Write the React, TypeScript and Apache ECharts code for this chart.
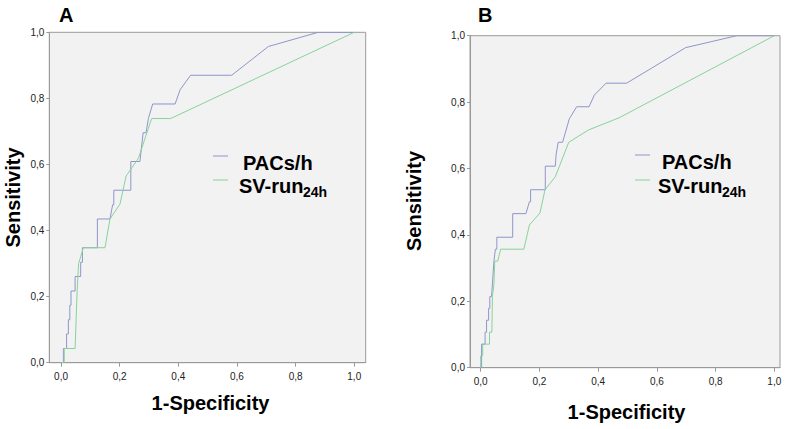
import React, { useEffect, useRef } from "react";
import * as echarts from "echarts";

const tickValues = [0, 0.2, 0.4, 0.6, 0.8, 1.0];

const pacsA: number[][] = [
  [0, 0], [0.008, 0], [0.008, 0.043], [0.019, 0.043], [0.019, 0.087], [0.025, 0.087],
  [0.025, 0.13], [0.03, 0.13], [0.03, 0.174], [0.034, 0.174], [0.034, 0.217], [0.048, 0.217],
  [0.048, 0.261], [0.067, 0.261], [0.067, 0.304], [0.073, 0.304], [0.073, 0.348], [0.124, 0.348],
  [0.124, 0.435], [0.167, 0.435], [0.176, 0.478], [0.18, 0.478], [0.18, 0.522], [0.238, 0.522],
  [0.238, 0.609], [0.269, 0.609], [0.28, 0.696], [0.29, 0.696], [0.298, 0.739], [0.3125, 0.783],
  [0.389, 0.783], [0.406, 0.826], [0.442, 0.87], [0.582, 0.87], [0.707, 0.957], [0.877, 1.0], [1.0, 1.0],
];

const svA: number[][] = [
  [0, 0], [0.011, 0], [0.011, 0.043], [0.048, 0.043], [0.055, 0.22], [0.06, 0.3], [0.076, 0.348],
  [0.15, 0.348], [0.167, 0.435], [0.201, 0.48], [0.222, 0.565], [0.264, 0.619], [0.309, 0.739],
  [0.374, 0.739], [1, 1],
];

const pacsB: number[][] = [
  [0, 0], [0.003, 0], [0.003, 0.071], [0.015, 0.071], [0.015, 0.107], [0.02, 0.107], [0.02, 0.143],
  [0.027, 0.143], [0.027, 0.179], [0.031, 0.179], [0.031, 0.214], [0.037, 0.214], [0.045, 0.32],
  [0.05, 0.357], [0.055, 0.357], [0.055, 0.393], [0.109, 0.393], [0.109, 0.464], [0.154, 0.464],
  [0.166, 0.5], [0.17, 0.5], [0.17, 0.536], [0.22, 0.536], [0.22, 0.607], [0.254, 0.607],
  [0.257, 0.643], [0.264, 0.679], [0.279, 0.679], [0.302, 0.75], [0.327, 0.786], [0.369, 0.786],
  [0.387, 0.821], [0.427, 0.857], [0.497, 0.857], [0.698, 0.964], [0.872, 1.0], [1, 1],
];

const svB: number[][] = [
  [0, 0], [0, 0.036], [0.007, 0.036], [0.007, 0.071], [0.03, 0.071], [0.03, 0.107], [0.038, 0.107],
  [0.04, 0.214], [0.045, 0.25], [0.048, 0.321], [0.058, 0.321], [0.068, 0.357], [0.147, 0.357],
  [0.166, 0.43], [0.202, 0.466], [0.219, 0.536], [0.254, 0.575], [0.3, 0.679], [0.367, 0.716],
  [0.472, 0.753], [1, 1],
];

const seriesNames = ["PACs/h", "SV-run"];
const subscript = "24h";
const panelLabels = ["A", "B"];
const xTitle = "1-Specificity";
const yTitle = "Sensitivity";

const BLUE = "#8f95cb";
const GREEN = "#86d39a";
const FONT = "'Liberation Sans', Arial, sans-serif";
const AXIS = "#9a9a9a";

const fmt = (v: number) => v.toFixed(1).replace(".", ",");

function makeX(gridIndex: number, min: number, max: number) {
  return {
    type: "value",
    gridIndex,
    min,
    max,
    axisLine: { show: true, onZero: false, lineStyle: { color: AXIS, width: 1 } },
    axisTick: { show: true, length: 4, customValues: tickValues, lineStyle: { color: AXIS } },
    axisLabel: { customValues: tickValues, formatter: fmt, fontSize: 10, color: "#222", fontFamily: FONT, margin: 9 },
    splitLine: { show: false },
  };
}
function makeY(gridIndex: number) {
  return {
    type: "value",
    gridIndex,
    min: 0,
    max: 1,
    interval: 0.2,
    axisLine: { show: true, onZero: false, lineStyle: { color: AXIS, width: 1 } },
    axisTick: { show: true, length: 3, lineStyle: { color: AXIS } },
    axisLabel: { formatter: fmt, fontSize: 10, color: "#222", fontFamily: FONT, margin: 5 },
    splitLine: { show: false },
  };
}

function line(name: string, data: number[][], color: string, idx: number) {
  return {
    type: "line",
    name,
    data,
    xAxisIndex: idx,
    yAxisIndex: idx,
    showSymbol: false,
    symbol: "none",
    lineStyle: { color, width: 1 },
    itemStyle: { color },
    silent: true,
  };
}

function bold(text: string, x: number, y: number, size: number, extra: any = {}) {
  return {
    type: "text",
    x,
    y,
    ...extra,
    style: {
      text,
      fontSize: size,
      fontWeight: "bold",
      fontFamily: FONT,
      fill: "#000",
      textVerticalAlign: "middle",
      textAlign: extra.align || "left",
    },
  };
}

function legend(lx: number, py: number, sy: number, px: number, sx: number) {
  return [
    { type: "line", shape: { x1: lx, y1: py, x2: lx + 15, y2: py }, style: { stroke: BLUE, lineWidth: 1 } },
    { type: "line", shape: { x1: lx, y1: sy, x2: lx + 15, y2: sy }, style: { stroke: GREEN, lineWidth: 1 } },
    bold(seriesNames[0], px, py + 7, 20),
    bold(seriesNames[1], sx, sy + 6, 20),
    bold(subscript, sx + 64, sy + 12, 14),
  ];
}

export default function App() {
  const ref = useRef<HTMLDivElement>(null);
  useEffect(() => {
    document.body.style.margin = "0";
    const chart = echarts.init(ref.current!, null, { renderer: "svg" });
    chart.setOption({
      animation: false,
      backgroundColor: "#fff",
      grid: [
        { left: 49.3, top: 32.3, width: 316.4, height: 330.4, show: true, backgroundColor: "#f2f2f2", borderColor: AXIS, borderWidth: 1 },
        { left: 470, top: 35.7, width: 310, height: 332, show: true, backgroundColor: "#f2f2f2", borderColor: AXIS, borderWidth: 1 },
      ],
      xAxis: [makeX(0, -0.04, 1.039), makeX(1, -0.0364, 1.0194)],
      yAxis: [makeY(0), makeY(1)],
      series: [
        line(seriesNames[0] + " A", pacsA, BLUE, 0),
        line(seriesNames[1] + " A", svA, GREEN, 0),
        line(seriesNames[0] + " B", pacsB, BLUE, 1),
        line(seriesNames[1] + " B", svB, GREEN, 1),
      ],
      graphic: [
        bold(panelLabels[0], 59, 15, 20),
        bold(panelLabels[1], 478, 15, 20),
        bold(xTitle, 210.5, 402.5, 20, { align: "center" }),
        bold(xTitle, 626.5, 412, 20, { align: "center" }),
        bold(yTitle, 12.5, 197.5, 20, { align: "center", rotation: Math.PI / 2 }),
        bold(yTitle, 413.5, 201, 20, { align: "center", rotation: Math.PI / 2 }),
        ...legend(213, 156, 180, 243, 239),
        ...legend(635, 155, 180, 662, 658),
      ],
    });
    return () => chart.dispose();
  }, []);
  return <div ref={ref} style={{ width: 791, height: 429 }} />;
}
